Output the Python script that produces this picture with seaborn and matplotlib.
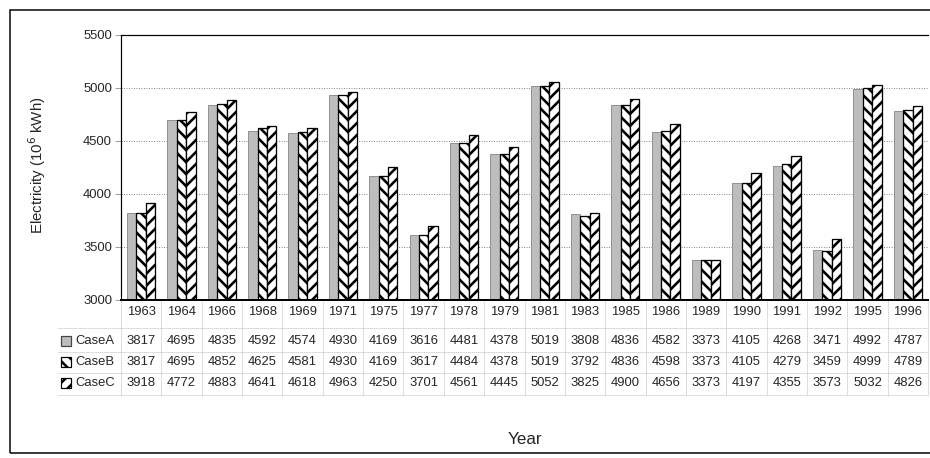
import matplotlib
matplotlib.use("Agg")
import matplotlib.pyplot as plt
from matplotlib.patches import Rectangle
from matplotlib.lines import Line2D
import seaborn as sns
import pandas as pd

years = ["1963", "1964", "1966", "1968", "1969", "1971", "1975", "1977", "1978", "1979",
         "1981", "1983", "1985", "1986", "1989", "1990", "1991", "1992", "1995", "1996"]
case_a = [3817, 4695, 4835, 4592, 4574, 4930, 4169, 3616, 4481, 4378,
          5019, 3808, 4836, 4582, 3373, 4105, 4268, 3471, 4992, 4787]
case_b = [3817, 4695, 4852, 4625, 4581, 4930, 4169, 3617, 4484, 4378,
          5019, 3792, 4836, 4598, 3373, 4105, 4279, 3459, 4999, 4789]
case_c = [3918, 4772, 4883, 4641, 4618, 4963, 4250, 3701, 4561, 4445,
          5052, 3825, 4900, 4656, 3373, 4197, 4355, 3573, 5032, 4826]
cases = ["CaseA", "CaseB", "CaseC"]
y_ticks = [3000, 3500, 4000, 4500, 5000, 5500]

series = {"CaseA": case_a, "CaseB": case_b, "CaseC": case_c}
df = pd.DataFrame([
    {"Year": y, "Case": c, "Value": series[c][i]}
    for c in cases for i, y in enumerate(years)
])

sns.set_style("white")
plt.rcParams["font.family"] = ["Liberation Sans", "DejaVu Sans"]
plt.rcParams["hatch.linewidth"] = 2.6

W, H, DPI = 930, 458, 72
fig = plt.figure(figsize=(W / DPI, H / DPI), dpi=DPI)

# plot area in pixel terms
ax_l, ax_r, ax_t, ax_b = 121, 928, 35, 300
ax = fig.add_axes([ax_l / W, (H - ax_b) / H, (ax_r - ax_l) / W, (ax_b - ax_t) / H])

sns.barplot(data=df, x="Year", y="Value", hue="Case", order=years, hue_order=cases,
            palette=["#bdbdbd", "white", "white"], width=0.7, gap=0,
            saturation=1, legend=False, ax=ax)

styles = {
    "CaseA": dict(hatch=None, edgecolor="#808080", lw=0.8),
    "CaseB": dict(hatch="\\\\", edgecolor="black", lw=1.3),
    "CaseC": dict(hatch="//", edgecolor="black", lw=1.3),
}
for case, cont in zip(cases, ax.containers):
    st = styles[case]
    for bar in cont:
        bar.set_edgecolor(st["edgecolor"])
        bar.set_linewidth(st["lw"])
        if st["hatch"]:
            bar.set_hatch(st["hatch"])

ax.set_ylim(3000, 5500)
ax.set_xlim(-0.5, len(years) - 0.5)
ax.set_yticks(y_ticks)
ax.set_yticklabels([str(v) for v in y_ticks], fontsize=13)
ax.yaxis.grid(True, linestyle=(0, (1, 1.5)), color="#8a8a8a", linewidth=1.0)
ax.set_axisbelow(True)
ax.tick_params(axis="y", length=6, width=0.8, color="#8a8a8a", pad=3, direction="out", left=True)
ax.tick_params(axis="x", length=0, pad=6, labelsize=13)
for side in ["left", "top", "bottom"]:
    ax.spines[side].set_color("black")
ax.spines["left"].set_linewidth(1.2)
ax.spines["top"].set_linewidth(1.2)
ax.spines["bottom"].set_linewidth(2.0)
ax.spines["right"].set_visible(False)

plot_h = ax_b - ax_t


def ay(ypix):
    """Convert a pixel row to axes y-coordinate."""
    return (ax_b - ypix) / plot_h


ax.set_ylabel("Electricity (10$^6$ kWh)", fontsize=15)
ax.yaxis.set_label_coords((48 - ax_l) / (ax_r - ax_l), ay(165))
ax.set_xlabel("Year", fontsize=17)
ax.xaxis.set_label_coords(0.5, ay(432))

# data table beneath the plot
trans = ax.get_xaxis_transform()
row_y = {"CaseA": 341, "CaseB": 362, "CaseC": 383}
for case in cases:
    for i, v in enumerate(series[case]):
        ax.text(i, ay(row_y[case]), str(v), transform=trans, ha="center", va="center",
                fontsize=13, clip_on=False)

grid_kw = dict(color="#9a9a9a", linewidth=0.8, linestyle=(0, (1, 1.5)), clip_on=False)
table_bottom = 395
for k in range(len(years) + 1):
    x = k - 0.5
    ax.add_line(Line2D([x, x], [0, ay(table_bottom)], transform=trans, **grid_kw))

left_col = (58 - ax_l) / (ax_r - ax_l)
for ypix in [328, 352, 373, table_bottom]:
    ax.add_line(Line2D([left_col, 1.0], [ay(ypix), ay(ypix)], transform=ax.transAxes, **grid_kw))

# legend keys in the first table column
key_faces = {"CaseA": "#bdbdbd", "CaseB": "white", "CaseC": "white"}
key_hatch = {"CaseA": None, "CaseB": "\\\\", "CaseC": "//"}
for case in cases:
    yc = row_y[case]
    rect = Rectangle((61 / W, (H - yc - 5) / H), 10 / W, 10 / H,
                     transform=fig.transFigure, facecolor=key_faces[case],
                     edgecolor="black" if case != "CaseA" else "#444444",
                     linewidth=1.2, hatch=key_hatch[case])
    fig.add_artist(rect)
    fig.text(75 / W, (H - yc) / H, case, fontsize=13, ha="left", va="center")

# chart frame
fig.add_artist(Rectangle((10 / W, 5 / H), 2.0, (448 - 5) / H, transform=fig.transFigure,
                         fill=False, edgecolor="black", linewidth=1.5))

fig.savefig("out.png", dpi=DPI)
